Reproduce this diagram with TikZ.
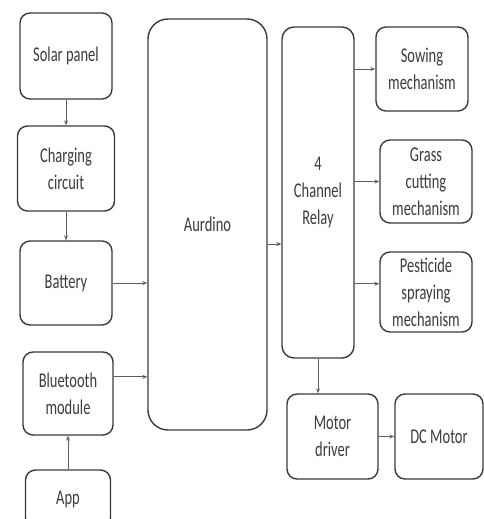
\documentclass[tikz,border=0pt]{standalone}
\usepackage{fontspec}
\setmainfont[FakeStretch=0.69]{Carlito}
\usetikzlibrary{arrows.meta}
\definecolor{boxline}{HTML}{3A3A3A}
\definecolor{boxtext}{HTML}{3C3C3C}
\definecolor{wire}{HTML}{5E5E5E}
\begin{document}
\begin{tikzpicture}[x=1pt,y=-1pt,
  blk/.style={draw=boxline,line width=1.4pt,rounded corners=10pt,align=center,
    text=boxtext,font=\fontsize{21}{27}\selectfont,inner sep=0pt},
  wire/.style={draw=wire,line width=0.8pt,-{Stealth[length=5pt,width=4pt]}}]
\useasboundingbox (0,0) rectangle (484,519);
% left column
\node [blk,minimum width=92pt,minimum height=86pt] (solar) at (66,56) {Solar panel};
\node [blk,minimum width=97pt,minimum height=85pt] (charge) at (66,168.5) {Charging\\circuit};
\node [blk,minimum width=92pt,minimum height=84pt] (battery) at (66,283) {Battery};
\node [blk,minimum width=90pt,minimum height=83pt] (bt) at (68,393.5) {Bluetooth\\module};
\node [blk,minimum width=85pt,minimum height=58pt] (app) at (68,499) {App};
% controller and relay
\node [blk,rounded corners=20pt,minimum width=119pt,minimum height=411pt] (aurdino) at (207.5,224.5) {Aurdino};
\node [blk,rounded corners=12pt,minimum width=72pt,minimum height=331pt] (relay) at (318,192.5) {4\\Channel\\Relay};
% loads
\node [blk,minimum width=92pt,minimum height=84pt] (sowing) at (422,69) {Sowing\\mechanism};
\node [blk,minimum width=92pt,minimum height=83pt] (grass) at (426,181.5) {Grass\\cutting\\mechanism};
\node [blk,minimum width=92pt,minimum height=80pt] (pest) at (426,292) {Pesticide\\spraying\\mechanism};
\node [blk,minimum width=91pt,minimum height=85pt] (mdrv) at (332.5,436.5) {Motor\\driver};
\node [blk,minimum width=88pt,minimum height=85pt] (dcm) at (439,436.5) {DC Motor};
% connectors
\draw [wire] (solar) -- (charge);
\draw [wire] (charge) -- (battery);
\draw [wire] (battery.east) -- (battery.east -| aurdino.west);
\draw [wire] (bt.20) -- (bt.20 -| aurdino.west);
\draw [wire] (app) -- (bt);
\draw [wire] (aurdino.-18) -- (aurdino.-18 -| relay.west);
\draw [wire] (relay.east |- sowing.west) -- (sowing.west);
\draw [wire] (relay.east |- grass.west) -- (grass.west);
\draw [wire] (relay.east |- pest.170) -- (pest.170);
\draw [wire] (relay.south) -- (relay.south |- mdrv.north);
\draw [wire] (mdrv) -- (dcm);
\end{tikzpicture}
\end{document}
